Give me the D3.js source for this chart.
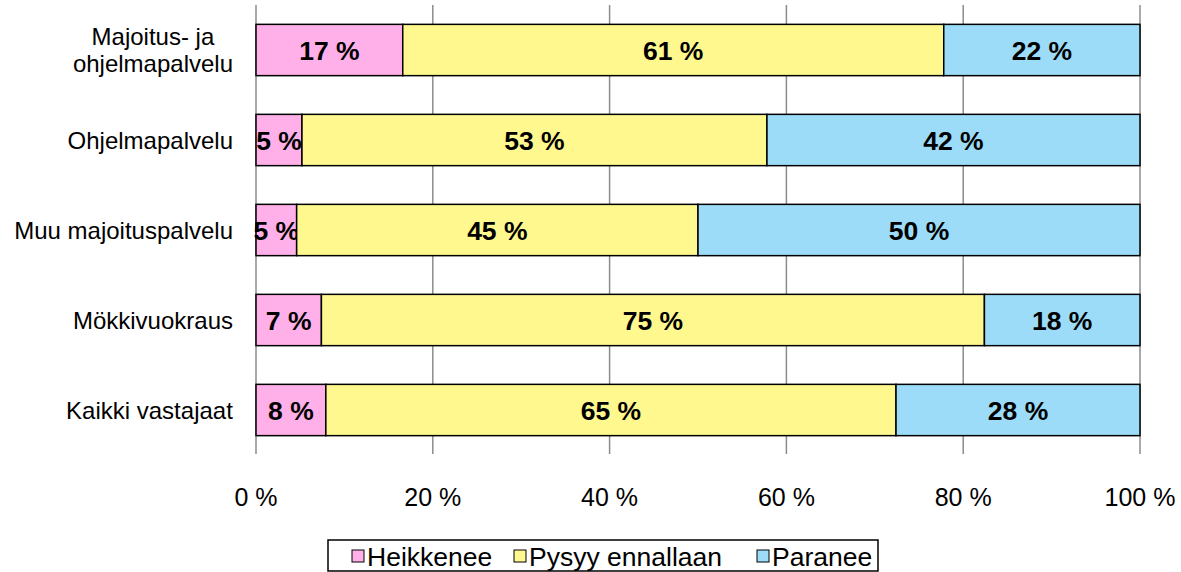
<!DOCTYPE html>
<meta charset="utf-8">
<style>
body { margin: 0; background: #fff; }
text { font-family: "Liberation Sans", Arial, sans-serif; }
.grid line { stroke: #8c8c8c; stroke-width: 1.5px; }
.bar { stroke: #000; stroke-width: 1.5px; }
.val { font-weight: bold; font-size: 26.5px; fill: #000; }
.cat { font-size: 24px; fill: #000; }
.tick { font-size: 25px; fill: #000; }
.leg { font-size: 26.5px; fill: #000; }
</style>
<svg width="1181" height="572"></svg>
<script src="https://cdn.jsdelivr.net/npm/d3@7"></script>
<script>

var categories = ["Majoitus- ja\nohjelmapalvelu", "Ohjelmapalvelu", "Muu majoituspalvelu", "Mökkivuokraus", "Kaikki vastajaat"];
var seriesNames = ["Heikkenee", "Pysyy ennallaan", "Paranee"];
var heikkenee = [16.6, 5.2, 4.6, 7.4, 7.9];
var pysyy = [61.2, 52.6, 45.4, 75.0, 64.5];
var paranee = [22.2, 42.2, 50.0, 17.6, 27.6];
var tickValues = [0, 20, 40, 60, 80, 100];
var colors = ["#ffb0e8", "#fff88f", "#9cdcf9"];

var svg = d3.select("svg");

var x = d3.scaleLinear().domain([0, 100]).range([256, 1140]);
var y = d3.scaleBand().domain(categories).range([5, 455]).paddingInner(0.43).paddingOuter(0.215);

var rows = categories.map(function(c, i) {
  return { cat: c, Heikkenee: heikkenee[i], "Pysyy ennallaan": pysyy[i], Paranee: paranee[i] };
});
var stacked = d3.stack().keys(seriesNames)(rows);

// gridlines
var grid = svg.append("g").attr("class", "grid");
grid.selectAll("line").data(tickValues).enter().append("line")
  .attr("x1", function(d) { return x(d); })
  .attr("x2", function(d) { return x(d); })
  .attr("y1", 5).attr("y2", 454);

svg.append("g").selectAll("text").data(tickValues).enter().append("text")
  .attr("class", "tick")
  .attr("x", function(d) { return x(d); })
  .attr("y", 506)
  .attr("text-anchor", "middle")
  .text(function(d) { return d + " %"; });

// bars
var layers = svg.append("g").selectAll("g").data(stacked).enter().append("g")
  .attr("fill", function(d, i) { return colors[i]; });

layers.selectAll("rect").data(function(d) { return d; }).enter().append("rect")
  .attr("class", "bar")
  .attr("x", function(d) { return x(d[0]); })
  .attr("width", function(d) { return x(d[1]) - x(d[0]); })
  .attr("y", function(d) { return y(d.data.cat); })
  .attr("height", y.bandwidth());

layers.selectAll("text").data(function(d) { return d; }).enter().append("text")
  .attr("class", "val")
  .attr("x", function(d) { return (x(d[0]) + x(d[1])) / 2; })
  .attr("y", function(d) { return y(d.data.cat) + y.bandwidth() / 2; })
  .attr("dy", "0.36em")
  .attr("text-anchor", "middle")
  .text(function(d) { return Math.round(d[1] - d[0]) + " %"; });

// category labels
var cats = svg.append("g").selectAll("text").data(categories).enter().append("text")
  .attr("class", "cat")
  .attr("y", function(d) { return y(d) + y.bandwidth() / 2; });

cats.each(function(d) {
  var t = d3.select(this);
  var lines = d.split("\n");
  lines.forEach(function(l, i) {
    t.append("tspan").text(l).attr("x", 0)
      .attr("dy", i == 0 ? ((0.36 - (lines.length - 1) * 0.56) + "em") : "1.12em");
  });
  var w = this.getBBox().width;
  t.attr("text-anchor", "middle");
  t.selectAll("tspan").attr("x", 233 - w / 2);
});

// legend
var legend = svg.append("g");
legend.append("rect")
  .attr("x", 328).attr("y", 540).attr("width", 550).attr("height", 31)
  .attr("fill", "#fff").attr("stroke", "#000").attr("stroke-width", 1.5);

var legX = [352, 514, 757];
var items = legend.selectAll("g.item").data(seriesNames).enter().append("g")
  .attr("class", "item")
  .attr("transform", function(d, i) { return "translate(" + legX[i] + ",556)"; });
items.append("rect")
  .attr("x", 0).attr("y", -6).attr("width", 12).attr("height", 12)
  .attr("fill", function(d, i) { return colors[i]; })
  .attr("stroke", "#000").attr("stroke-width", 1);
items.append("text")
  .attr("class", "leg")
  .attr("x", 15).attr("dy", "0.36em")
  .text(function(d) { return d; });

</script>
